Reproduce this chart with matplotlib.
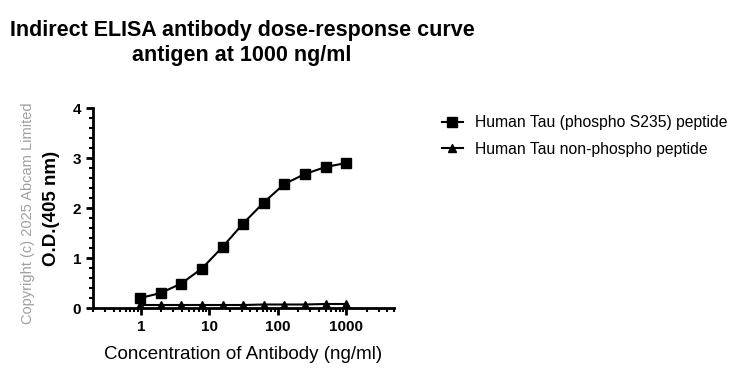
import numpy as np
import matplotlib.pyplot as plt
from matplotlib.ticker import FixedLocator, LogLocator, NullFormatter, MultipleLocator

plt.rcParams['font.family'] = ['Liberation Sans', 'DejaVu Sans']

# антитело, двукратные разведения от 1000 нг/мл
conc = [1000 / 2 ** i for i in range(10, -1, -1)]
phospho = [0.20, 0.30, 0.49, 0.79, 1.22, 1.69, 2.11, 2.48, 2.68, 2.82, 2.90]
non_phospho = [0.06, 0.06, 0.06, 0.06, 0.06, 0.06, 0.07, 0.07, 0.07, 0.08, 0.08]
series_names = ['Human Tau (phospho S235) peptide', 'Human Tau non-phospho peptide']
x_ticks = [1, 10, 100, 1000]

fig = plt.figure(figsize=(7.5, 3.79), dpi=100)
ax = fig.add_axes([93 / 750, 1 - 308 / 379, (394 - 93) / 750, (308 - 108) / 379])

ax.plot(conc, phospho, '-s', color='black', lw=1.5, ms=7, label=series_names[0])
ax.plot(conc, non_phospho, '-^', color='black', lw=1.5, ms=6, label=series_names[1])

ax.set_xscale('log')
ax.set_xlim(0.2, 5000)
ax.set_ylim(0, 4)
ax.xaxis.set_major_locator(FixedLocator(x_ticks))
ax.set_xticklabels([str(t) for t in x_ticks])
ax.xaxis.set_minor_locator(LogLocator(base=10, subs=np.arange(2, 10)))
ax.xaxis.set_minor_formatter(NullFormatter())
ax.yaxis.set_major_locator(MultipleLocator(1))
ax.yaxis.set_minor_locator(MultipleLocator(0.2))

for s in ['top', 'right']:
    ax.spines[s].set_visible(False)
for s in ['left', 'bottom']:
    ax.spines[s].set_linewidth(2)
ax.tick_params(which='major', direction='out', length=5, width=2, labelsize=11)
ax.tick_params(which='minor', direction='out', length=3, width=1.5)
for lbl in ax.get_xticklabels() + ax.get_yticklabels():
    lbl.set_fontweight('bold')

ax.set_xlabel('Concentration of Antibody (ng/ml)', fontsize=13.5, labelpad=9)
ax.set_ylabel('O.D.(405 nm)', fontsize=13.5, fontweight='bold', labelpad=9)

fig.text(242 / 750, 1 - 43 / 379, 'Indirect ELISA antibody dose-response curve\nantigen at 1000 ng/ml',
         ha='center', va='center', fontsize=15.5, fontweight='bold', linespacing=1.3)
fig.text(28 / 750, 1 - 213 / 379, 'Copyright (c) 2025 Abcam Limited', rotation=90,
         ha='center', va='center', fontsize=10.5, color='#a0a0a0')

leg = ax.legend(loc='upper left', bbox_to_anchor=(428 / 750, 1 - 101 / 379), bbox_transform=fig.transFigure,
                frameon=False, fontsize=11.3, handlelength=1.3, handletextpad=0.8, labelspacing=0.75)

fig.savefig('out.png', dpi=100)
